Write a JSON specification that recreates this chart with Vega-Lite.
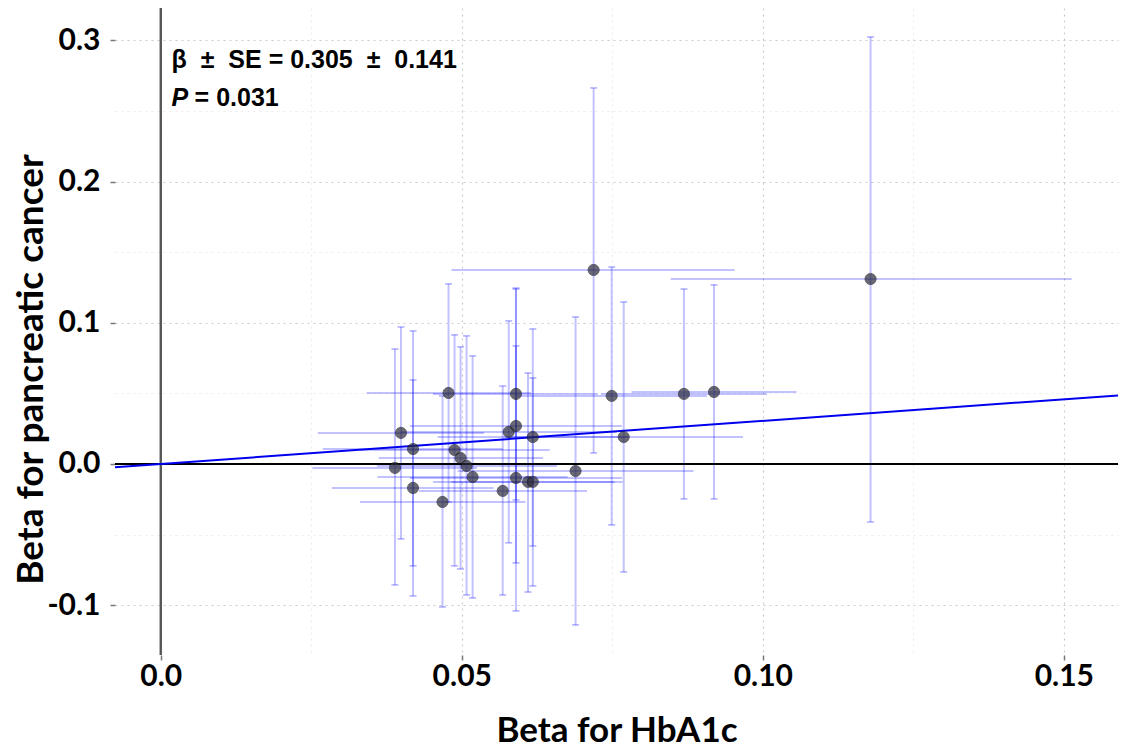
{
  "$schema": "https://vega.github.io/schema/vega-lite/v6.json",
  "width": 1003,
  "height": 647,
  "autosize": {"type": "none"},
  "padding": {"left": 115, "top": 8, "right": 3, "bottom": 98},
  "background": "white",
  "config": {
    "view": {"stroke": null},
    "axis": {"labelFont": "Lato", "labelFontWeight": "bold", "labelFontSize": 30, "labelColor": "black", "titleFont": "Lato", "titleFontWeight": "bold", "titleColor": "black", "domain": false}
  },
  "datasets": {
    "pts": [
      {"x": 0.0719, "y": 0.1374, "xlo": 0.0483, "xhi": 0.0953, "ylo": 0.0078, "yhi": 0.2663},
      {"x": 0.1179, "y": 0.1310, "xlo": 0.0847, "xhi": 0.1513, "ylo": -0.0411, "yhi": 0.3024},
      {"x": 0.0749, "y": 0.0482, "xlo": 0.0591, "xhi": 0.0907, "ylo": -0.0432, "yhi": 0.1395},
      {"x": 0.0869, "y": 0.0496, "xlo": 0.0731, "xhi": 0.1007, "ylo": -0.0248, "yhi": 0.1239},
      {"x": 0.0919, "y": 0.0510, "xlo": 0.0782, "xhi": 0.1056, "ylo": -0.0248, "yhi": 0.1268},
      {"x": 0.0769, "y": 0.0191, "xlo": 0.0571, "xhi": 0.0967, "ylo": -0.0765, "yhi": 0.1147},
      {"x": 0.0689, "y": -0.0050, "xlo": 0.0493, "xhi": 0.0885, "ylo": -0.1140, "yhi": 0.1041},
      {"x": 0.0399, "y": 0.0220, "xlo": 0.0261, "xhi": 0.0537, "ylo": -0.0531, "yhi": 0.0970},
      {"x": 0.0389, "y": -0.0028, "xlo": 0.0252, "xhi": 0.0525, "ylo": -0.0857, "yhi": 0.0814},
      {"x": 0.0419, "y": 0.0106, "xlo": 0.0269, "xhi": 0.0568, "ylo": -0.0722, "yhi": 0.0942},
      {"x": 0.0419, "y": -0.0170, "xlo": 0.0284, "xhi": 0.0553, "ylo": -0.0935, "yhi": 0.0595},
      {"x": 0.0468, "y": -0.0269, "xlo": 0.0331, "xhi": 0.0606, "ylo": -0.1013, "yhi": 0.0482},
      {"x": 0.0478, "y": 0.0503, "xlo": 0.0342, "xhi": 0.0615, "ylo": -0.0269, "yhi": 0.1275},
      {"x": 0.0488, "y": 0.0099, "xlo": 0.0331, "xhi": 0.0646, "ylo": -0.0722, "yhi": 0.0914},
      {"x": 0.0498, "y": 0.0042, "xlo": 0.0362, "xhi": 0.0635, "ylo": -0.0744, "yhi": 0.0829},
      {"x": 0.0508, "y": -0.0014, "xlo": 0.0359, "xhi": 0.0658, "ylo": -0.0928, "yhi": 0.0907},
      {"x": 0.0518, "y": -0.0092, "xlo": 0.0360, "xhi": 0.0676, "ylo": -0.0949, "yhi": 0.0765},
      {"x": 0.0568, "y": -0.0191, "xlo": 0.0429, "xhi": 0.0708, "ylo": -0.0928, "yhi": 0.0552},
      {"x": 0.0578, "y": 0.0227, "xlo": 0.0399, "xhi": 0.0757, "ylo": -0.0559, "yhi": 0.1013},
      {"x": 0.0590, "y": 0.0496, "xlo": 0.0452, "xhi": 0.0726, "ylo": -0.0255, "yhi": 0.1246},
      {"x": 0.0590, "y": 0.0269, "xlo": 0.0414, "xhi": 0.0766, "ylo": -0.0701, "yhi": 0.1239},
      {"x": 0.0590, "y": -0.0099, "xlo": 0.0414, "xhi": 0.0766, "ylo": -0.1041, "yhi": 0.0836},
      {"x": 0.0610, "y": -0.0127, "xlo": 0.0452, "xhi": 0.0767, "ylo": -0.0907, "yhi": 0.0644},
      {"x": 0.0618, "y": 0.0191, "xlo": 0.0460, "xhi": 0.0776, "ylo": -0.0581, "yhi": 0.0956},
      {"x": 0.0618, "y": -0.0127, "xlo": 0.0482, "xhi": 0.0754, "ylo": -0.0864, "yhi": 0.0609}
    ],
    "fit": [
      {"x": -0.0076, "y": -0.00232},
      {"x": 0.159, "y": 0.0485}
    ],
    "txt": [
      {"x": 0.0018, "y": 0.2805, "label": "β\u00a0 ±\u00a0 SE = 0.305\u00a0 ±\u00a0 0.141"}
    ],
    "ptxt": [
      {"x": 0.0018, "y": 0.2535, "p": "P", "rest": "= 0.031"}
    ],
    "zero": [
      {"v": 0}
    ]
  },
  "layer": [
    {
      "data": {"name": "pts"},
      "mark": {"type": "rule", "color": "#0000ff", "opacity": 0.24, "strokeWidth": 2},
      "encoding": {
        "x": {"field": "xlo", "type": "quantitative",
          "scale": {"domain": [-0.0076, 0.159], "nice": false, "zero": false},
          "axis": {
            "title": "Beta for HbA1c",
            "titleFontSize": 35,
            "titleBaseline": "alphabetic",
            "titleY": 86,
            "values": [0, 0.025, 0.05, 0.075, 0.1, 0.125, 0.15],
            "labelExpr": "abs(round(datum.value*40)) % 2 == 1 ? '' : (datum.value == 0 ? '0.0' : format(datum.value, '.2f'))",
            "tickSize": 5,
            "tickWidth": 1.5,
            "tickColor": {"condition": {"test": "abs(round(datum.value*40)) % 2 == 1", "value": "transparent"}, "value": "#777777"},
            "labelPadding": 1,
            "grid": true,
            "gridDash": [2, 4],
            "gridWidth": 1.2,
            "gridColor": {"condition": {"test": "abs(round(datum.value*40)) % 2 == 1", "value": "#ececec"}, "value": "#cccccc"}
          }
        },
        "x2": {"field": "xhi"},
        "y": {"field": "y", "type": "quantitative",
          "scale": {"domain": [-0.1353, 0.3229], "nice": false, "zero": false},
          "axis": {
            "title": "Beta for pancreatic cancer",
            "titleFontSize": 37,
            "titleAngle": -90,
            "titleBaseline": "alphabetic",
            "titleAlign": "center",
            "titleX": -73,
            "titleY": 361,
            "values": [-0.1, -0.05, 0, 0.05, 0.1, 0.15, 0.2, 0.25, 0.3],
            "labelExpr": "abs(round(datum.value*20)) % 2 == 1 ? '' : ((datum.value < 0 ? '-' : '') + format(abs(datum.value), '.1f'))",
            "tickSize": 5,
            "tickWidth": 1.5,
            "tickColor": {"condition": {"test": "abs(round(datum.value*20)) % 2 == 1", "value": "transparent"}, "value": "#777777"},
            "labelPadding": 10,
            "grid": true,
            "gridDash": [2, 4],
            "gridWidth": 1.2,
            "gridColor": {"condition": {"test": "abs(round(datum.value*20)) % 2 == 1", "value": "#ececec"}, "value": "#cccccc"}
          }
        }
      }
    },
    {
      "data": {"name": "pts"},
      "mark": {"type": "rule", "color": "#0000ff", "opacity": 0.24, "strokeWidth": 2},
      "encoding": {
        "x": {"field": "x", "type": "quantitative"},
        "y": {"field": "ylo", "type": "quantitative"},
        "y2": {"field": "yhi"}
      }
    },
    {
      "data": {"name": "pts"},
      "mark": {"type": "tick", "orient": "horizontal", "color": "#0000ff", "opacity": 0.32, "size": 7, "thickness": 1.5},
      "encoding": {
        "x": {"field": "x", "type": "quantitative"},
        "y": {"field": "ylo", "type": "quantitative"}
      }
    },
    {
      "data": {"name": "pts"},
      "mark": {"type": "tick", "orient": "horizontal", "color": "#0000ff", "opacity": 0.32, "size": 7, "thickness": 1.5},
      "encoding": {
        "x": {"field": "x", "type": "quantitative"},
        "y": {"field": "yhi", "type": "quantitative"}
      }
    },
    {
      "data": {"name": "zero"},
      "mark": {"type": "rule", "color": "black", "strokeWidth": 2},
      "encoding": {"y": {"field": "v", "type": "quantitative"}}
    },
    {
      "data": {"name": "zero"},
      "mark": {"type": "rule", "color": "#555555", "strokeWidth": 2.4},
      "encoding": {"x": {"field": "v", "type": "quantitative"}}
    },
    {
      "data": {"name": "fit"},
      "mark": {"type": "line", "color": "#0000ee", "strokeWidth": 2},
      "encoding": {
        "x": {"field": "x", "type": "quantitative"},
        "y": {"field": "y", "type": "quantitative"}
      }
    },
    {
      "data": {"name": "pts"},
      "mark": {"type": "point", "filled": true, "size": 125, "color": "#2b2b3b", "opacity": 0.7, "stroke": "#111111", "strokeWidth": 1, "strokeOpacity": 0.8},
      "encoding": {
        "x": {"field": "x", "type": "quantitative"},
        "y": {"field": "y", "type": "quantitative"}
      }
    },
    {
      "data": {"name": "txt"},
      "mark": {"type": "text", "align": "left", "baseline": "alphabetic", "font": "Liberation Sans", "fontWeight": "bold", "fontSize": 25, "color": "black"},
      "encoding": {
        "x": {"field": "x", "type": "quantitative"},
        "y": {"field": "y", "type": "quantitative"},
        "text": {"field": "label"}
      }
    },
    {
      "data": {"name": "ptxt"},
      "mark": {"type": "text", "align": "left", "baseline": "alphabetic", "font": "Liberation Sans", "fontWeight": "bold", "fontStyle": "italic", "fontSize": 25, "color": "black"},
      "encoding": {
        "x": {"field": "x", "type": "quantitative"},
        "y": {"field": "y", "type": "quantitative"},
        "text": {"field": "p"}
      }
    },
    {
      "data": {"name": "ptxt"},
      "mark": {"type": "text", "align": "left", "baseline": "alphabetic", "dx": 23, "font": "Liberation Sans", "fontWeight": "bold", "fontSize": 25, "color": "black"},
      "encoding": {
        "x": {"field": "x", "type": "quantitative"},
        "y": {"field": "y", "type": "quantitative"},
        "text": {"field": "rest"}
      }
    }
  ]
}
